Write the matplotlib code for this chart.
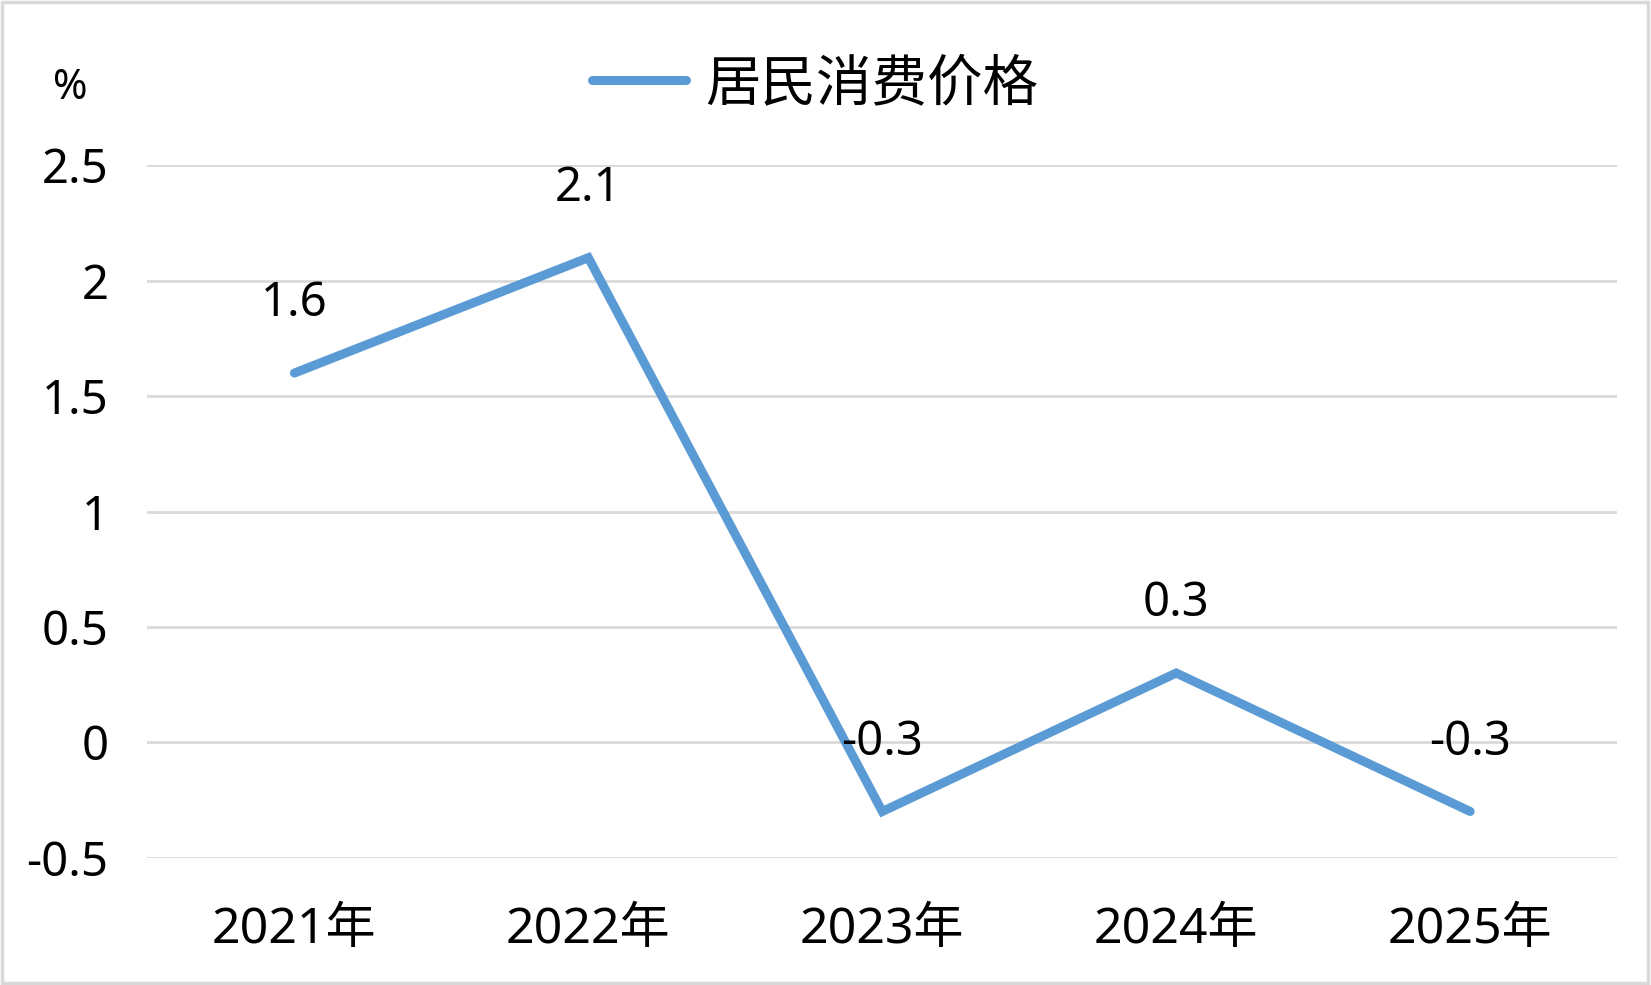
import matplotlib.pyplot as plt
from matplotlib.patches import Rectangle

plt.rcParams['font.family'] = ['Noto Sans', 'Noto Sans CJK SC', 'DejaVu Sans']

years = ["2021年", "2022年", "2023年", "2024年", "2025年"]
cpi = [1.6, 2.1, -0.3, 0.3, -0.3]
y_ticks = [-0.5, 0, 0.5, 1, 1.5, 2, 2.5]
series_name = "居民消费价格"

blue = "#5B9BD5"
grey = "#D9D9D9"

fig = plt.figure(figsize=(16.51, 9.85), dpi=100)
ax = fig.add_axes([0.0893, 0.1293, 0.8902, 0.7028])

x = list(range(len(years)))
ax.plot(x, cpi, color=blue, lw=6.5, solid_capstyle="round", solid_joinstyle="miter",
        label=series_name, zorder=3)

for xi, v in zip(x, cpi):
    ax.annotate(f"{v:g}", (xi, v), xytext=(0, 50), textcoords="offset points",
                ha="center", va="center", fontsize=34, color="black", zorder=4)

ax.set_xlim(-0.5, len(years) - 0.5)
ax.set_ylim(-0.5, 2.5)
ax.set_yticks(y_ticks)
ax.set_yticklabels([f"{t:g}" for t in y_ticks])
ax.set_xticks(x)
ax.set_xticklabels(years)
ax.tick_params(axis="y", length=0, pad=28, labelsize=34)
ax.tick_params(axis="x", length=0, pad=34, labelsize=36)
ax.grid(axis="y", color=grey, lw=2)
ax.set_axisbelow(True)
for s in ax.spines.values():
    s.set_visible(False)

fig.text(70 / 1651, 1 - 88 / 985, "%", ha="center", va="center", fontsize=30)

leg = fig.legend(loc="center", bbox_to_anchor=(815 / 1651, 1 - 84 / 985), frameon=False,
                 prop={"family": ["Noto Sans CJK SC"], "size": 40, "weight": "medium"},
                 handlelength=1.7, handletextpad=0.35)

fig.patches.append(Rectangle((0.001, 0.002), 0.997, 0.996, transform=fig.transFigure,
                             fill=False, edgecolor=grey, lw=2.5))

plt.savefig("out.png", dpi=100)
plt.close()
